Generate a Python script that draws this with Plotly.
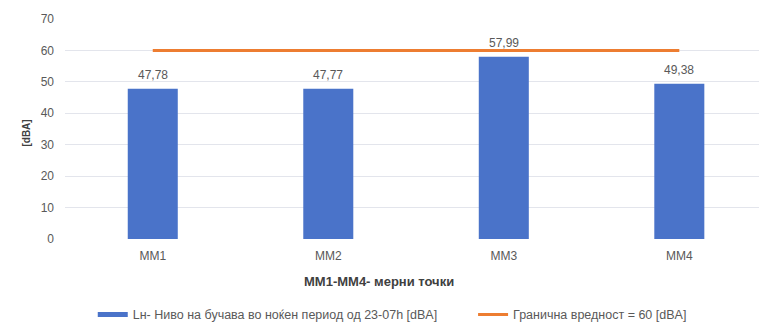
import plotly.graph_objects as go

categories = ["MM1", "MM2", "MM3", "MM4"]
noise_values = [47.78, 47.77, 57.99, 49.38]
limit_values = [60, 60, 60, 60]
y_ticks = [0, 10, 20, 30, 40, 50, 60, 70]

series_bar_name = "Lн- Ниво на бучава во ноќен период од 23-07h [dBA]"
series_line_name = "Гранична вредност = 60 [dBA]"
x_title = "<b>MM1-MM4- мерни точки</b>"
y_title = "<b>[dBA]</b>"

labels = [f"{v:.2f}".replace(".", ",") for v in noise_values]

FONT = "Liberation Sans, Arial, sans-serif"
GRAY = "#595959"
BLUE = "#4a73c9"
ORANGE = "#ED7D31"

fig = go.Figure()
fig.add_trace(go.Bar(
    x=categories, y=noise_values, name=series_bar_name,
    marker=dict(color=BLUE, line=dict(width=0)),
    width=0.285, showlegend=False,
))
# legend entry for the bar series (wide swatch as in the original)
fig.add_trace(go.Scatter(
    x=[None], y=[None], name=series_bar_name, mode="lines",
    line=dict(color=BLUE, width=5), showlegend=True, legend="legend",
))
fig.add_trace(go.Scatter(
    x=categories, y=limit_values, name=series_line_name,
    mode="lines", line=dict(color=ORANGE, width=3), legend="legend2",
))

annotations = [
    dict(x=c, y=v, text=t, xref="x", yref="y", showarrow=False,
         yanchor="bottom", yshift=5, font=dict(size=12, color=GRAY, family=FONT))
    for c, v, t in zip(categories, noise_values, labels)
]
annotations += [
    dict(text=x_title, xref="paper", yref="paper", x=0.452, y=-0.195,
         xanchor="center", yanchor="middle", showarrow=False,
         font=dict(size=13, color="#404040", family=FONT)),
    dict(text=y_title, xref="paper", yref="paper", x=-0.056, y=0.48,
         xanchor="center", yanchor="middle", showarrow=False, textangle=-90,
         font=dict(size=10, color="#404040", family=FONT)),
]

legend_common = dict(orientation="h", y=-0.345, yanchor="middle", xanchor="left",
                     font=dict(size=12.5, color=GRAY), bgcolor="rgba(0,0,0,0)")

fig.update_layout(
    width=759, height=324,
    margin=dict(l=65, r=0, t=19, b=85, autoexpand=False),
    paper_bgcolor="white", plot_bgcolor="white",
    font=dict(family=FONT, size=12, color=GRAY),
    showlegend=True,
    legend=dict(x=0.040, **legend_common),
    legend2=dict(x=0.588, **legend_common),
    xaxis=dict(range=[-0.5, 3.454], showgrid=False, zeroline=False, showline=False,
               ticks="", automargin=False, ticklabelstandoff=8,
               tickfont=dict(size=12, color=GRAY)),
    yaxis=dict(range=[0, 70], tickvals=y_ticks, showgrid=True, gridcolor="#e3e5ec",
               gridwidth=1, zeroline=False, showline=False, ticks="", automargin=False,
               ticklabelstandoff=10, tickfont=dict(size=12, color=GRAY)),
    annotations=annotations,
    hovermode=False,
)

fig.write_html(
    "out.html",
    config={"displayModeBar": False, "staticPlot": True},
    post_script="document.body.style.margin='0';document.body.style.overflow='hidden';",
)
